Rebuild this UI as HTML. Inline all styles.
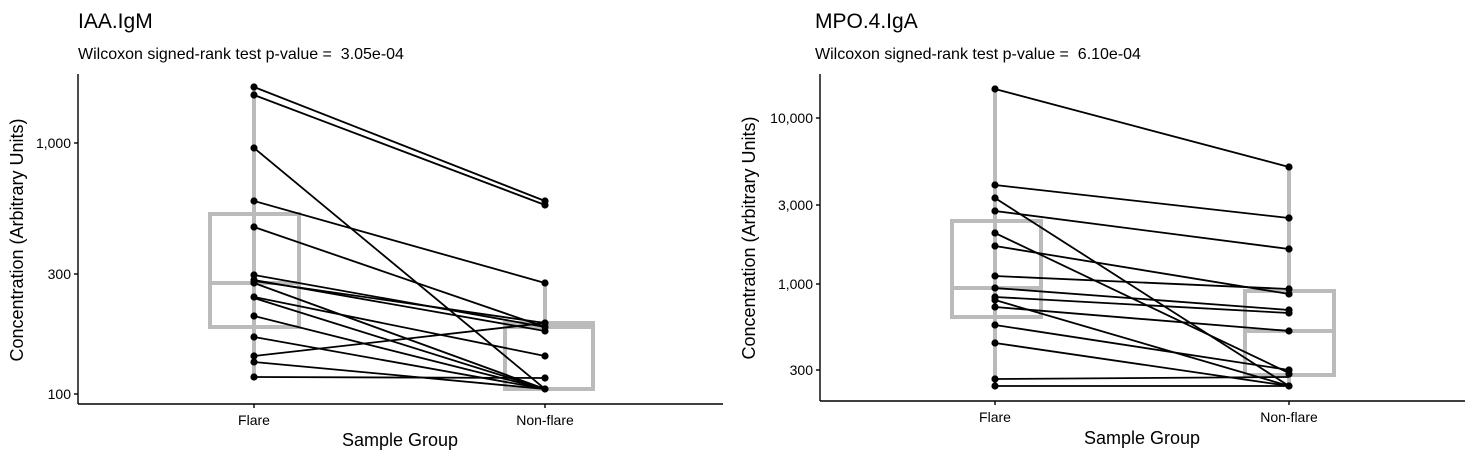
<!DOCTYPE html>
<html><head><style>body{margin:0;background:#fff}</style></head><body>
<svg width="1472" height="462" xmlns="http://www.w3.org/2000/svg" font-family="Liberation Sans, sans-serif">
<rect width="1472" height="462" fill="#fff"/>
<!-- LEFT -->
<text x="78" y="28" font-size="21">IAA.IgM</text>
<text x="78" y="59" font-size="16">Wilcoxon signed-rank test p-value = &#160;3.05e-04</text>
<g stroke="#bbb" stroke-width="4" fill="none">
<line x1="254" y1="87" x2="254" y2="377"/>
<rect x="210" y="214" width="89" height="113"/>
<line x1="210" y1="283" x2="299" y2="283"/>
<line x1="545" y1="283" x2="545" y2="323"/>
<rect x="505" y="323" width="88" height="66"/>
<line x1="505" y1="327" x2="593" y2="327"/>
</g>
<g stroke="#000" stroke-width="1.8">
<line x1="254" y1="87" x2="545" y2="201"/>
<line x1="254" y1="95" x2="545" y2="205"/>
<line x1="254" y1="148" x2="545" y2="389"/>
<line x1="254" y1="201" x2="545" y2="283"/>
<line x1="254" y1="227" x2="545" y2="327"/>
<line x1="254" y1="275" x2="545" y2="327"/>
<line x1="254" y1="280" x2="545" y2="331"/>
<line x1="254" y1="281" x2="545" y2="323"/>
<line x1="254" y1="283" x2="545" y2="389"/>
<line x1="254" y1="297" x2="545" y2="356"/>
<line x1="254" y1="298" x2="545" y2="389"/>
<line x1="254" y1="316" x2="545" y2="389"/>
<line x1="254" y1="337" x2="545" y2="389"/>
<line x1="254" y1="356" x2="545" y2="323"/>
<line x1="254" y1="362" x2="545" y2="389"/>
<line x1="254" y1="377" x2="545" y2="378"/>
</g>
<g fill="#000">
<circle cx="254" cy="87" r="3.6"/><circle cx="254" cy="95" r="3.6"/><circle cx="254" cy="148" r="3.6"/><circle cx="254" cy="201" r="3.6"/><circle cx="254" cy="227" r="3.6"/><circle cx="254" cy="275" r="3.6"/><circle cx="254" cy="280" r="3.6"/><circle cx="254" cy="283" r="3.6"/><circle cx="254" cy="297" r="3.6"/><circle cx="254" cy="316" r="3.6"/><circle cx="254" cy="337" r="3.6"/><circle cx="254" cy="356" r="3.6"/><circle cx="254" cy="362" r="3.6"/><circle cx="254" cy="377" r="3.6"/>
<circle cx="545" cy="201" r="3.6"/><circle cx="545" cy="205" r="3.6"/><circle cx="545" cy="283" r="3.6"/><circle cx="545" cy="323" r="3.6"/><circle cx="545" cy="327" r="3.6"/><circle cx="545" cy="331" r="3.6"/><circle cx="545" cy="356" r="3.6"/><circle cx="545" cy="378" r="3.6"/><circle cx="545" cy="389" r="3.6"/>
</g>
<g stroke="#000" stroke-width="1.4">
<line x1="78" y1="74" x2="78" y2="404"/><line x1="78" y1="404" x2="723" y2="404"/>
<line x1="74" y1="143" x2="78" y2="143"/><line x1="74" y1="274" x2="78" y2="274"/><line x1="74" y1="394" x2="78" y2="394"/>
<line x1="254" y1="404" x2="254" y2="408"/><line x1="545" y1="404" x2="545" y2="408"/>
</g>
<g font-size="14" text-anchor="end"><text x="71" y="148">1,000</text><text x="71" y="279">300</text><text x="71" y="399">100</text></g>
<g font-size="14" text-anchor="middle"><text x="254" y="425">Flare</text><text x="545" y="425">Non-flare</text></g>
<text x="400" y="446" font-size="18" text-anchor="middle">Sample Group</text>
<text transform="translate(23,240) rotate(-90)" font-size="18" text-anchor="middle">Concentration (Arbitrary Units)</text>
<!-- RIGHT -->
<text x="815" y="28" font-size="21">MPO.4.IgA</text>
<text x="815" y="59" font-size="16">Wilcoxon signed-rank test p-value = &#160;6.10e-04</text>
<g stroke="#bbb" stroke-width="4" fill="none">
<line x1="995" y1="89" x2="995" y2="386"/>
<rect x="952" y="221" width="89" height="96"/>
<line x1="952" y1="288" x2="1041" y2="288"/>
<line x1="1289" y1="167" x2="1289" y2="386"/>
<rect x="1245" y="291" width="89" height="84" fill="#fff"/>
<line x1="1245" y1="331" x2="1334" y2="331"/>
</g>
<g stroke="#000" stroke-width="1.8">
<line x1="995" y1="89" x2="1289" y2="167"/>
<line x1="995" y1="185" x2="1289" y2="218"/>
<line x1="995" y1="198" x2="1289" y2="386"/>
<line x1="995" y1="211" x2="1289" y2="249"/>
<line x1="995" y1="233" x2="1289" y2="373"/>
<line x1="995" y1="246" x2="1289" y2="294"/>
<line x1="995" y1="276" x2="1289" y2="289"/>
<line x1="995" y1="288" x2="1289" y2="310"/>
<line x1="995" y1="297" x2="1289" y2="313"/>
<line x1="995" y1="300" x2="1289" y2="386"/>
<line x1="995" y1="307" x2="1289" y2="331"/>
<line x1="995" y1="325" x2="1289" y2="370"/>
<line x1="995" y1="343" x2="1289" y2="386"/>
<line x1="995" y1="379" x2="1289" y2="377"/>
<line x1="995" y1="386" x2="1289" y2="386"/>
</g>
<g fill="#000">
<circle cx="995" cy="89" r="3.6"/><circle cx="995" cy="185" r="3.6"/><circle cx="995" cy="198" r="3.6"/><circle cx="995" cy="211" r="3.6"/><circle cx="995" cy="233" r="3.6"/><circle cx="995" cy="246" r="3.6"/><circle cx="995" cy="276" r="3.6"/><circle cx="995" cy="288" r="3.6"/><circle cx="995" cy="297" r="3.6"/><circle cx="995" cy="300" r="3.6"/><circle cx="995" cy="307" r="3.6"/><circle cx="995" cy="325" r="3.6"/><circle cx="995" cy="343" r="3.6"/><circle cx="995" cy="379" r="3.6"/><circle cx="995" cy="386" r="3.6"/>
<circle cx="1289" cy="167" r="3.6"/><circle cx="1289" cy="218" r="3.6"/><circle cx="1289" cy="249" r="3.6"/><circle cx="1289" cy="289" r="3.6"/><circle cx="1289" cy="294" r="3.6"/><circle cx="1289" cy="310" r="3.6"/><circle cx="1289" cy="313" r="3.6"/><circle cx="1289" cy="331" r="3.6"/><circle cx="1289" cy="370" r="3.6"/><circle cx="1289" cy="374" r="3.6"/><circle cx="1289" cy="386" r="3.6"/>
</g>
<g stroke="#000" stroke-width="1.4">
<line x1="820" y1="74" x2="820" y2="401"/><line x1="820" y1="401" x2="1465" y2="401"/>
<line x1="816" y1="118" x2="820" y2="118"/><line x1="816" y1="205" x2="820" y2="205"/><line x1="816" y1="284" x2="820" y2="284"/><line x1="816" y1="370" x2="820" y2="370"/>
<line x1="995" y1="401" x2="995" y2="405"/><line x1="1289" y1="401" x2="1289" y2="405"/>
</g>
<g font-size="14" text-anchor="end"><text x="813" y="123">10,000</text><text x="813" y="210">3,000</text><text x="813" y="289">1,000</text><text x="813" y="375">300</text></g>
<g font-size="14" text-anchor="middle"><text x="995" y="422">Flare</text><text x="1289" y="422">Non-flare</text></g>
<text x="1142" y="444" font-size="18" text-anchor="middle">Sample Group</text>
<text transform="translate(755,238) rotate(-90)" font-size="18" text-anchor="middle">Concentration (Arbitrary Units)</text>
</svg>
</body></html>
